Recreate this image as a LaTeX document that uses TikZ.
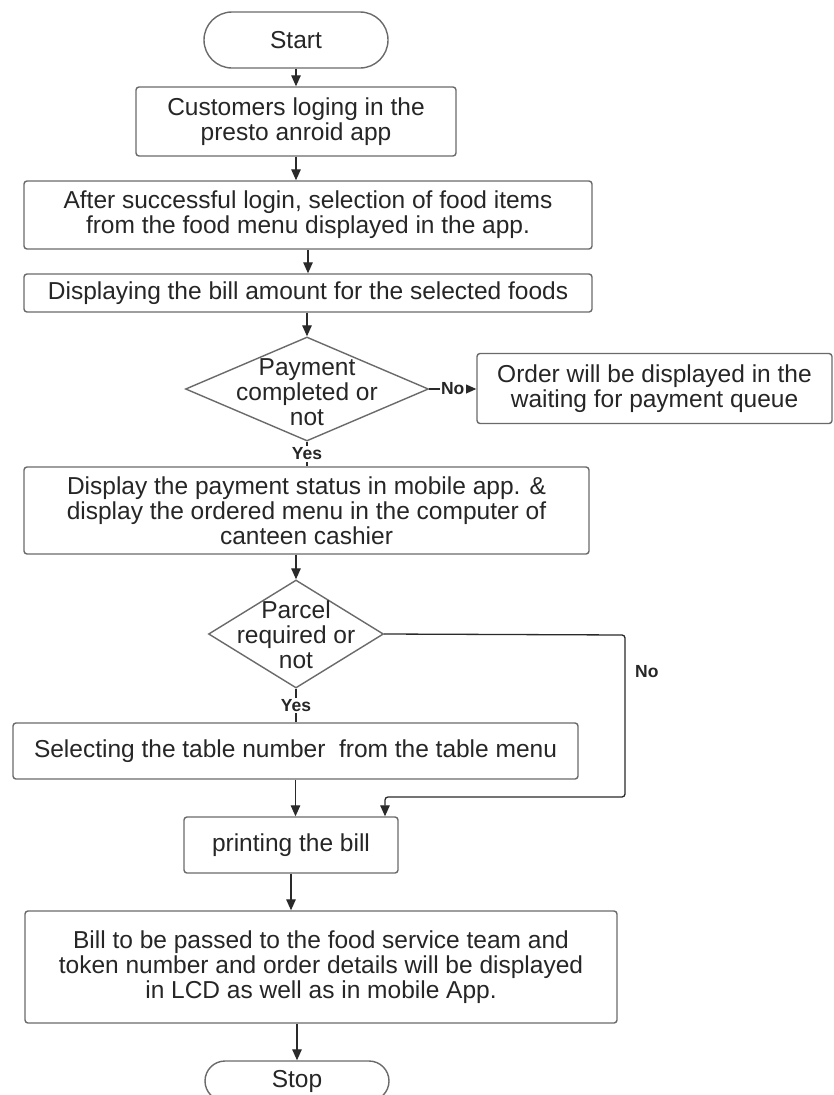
\documentclass[tikz,border=0pt]{standalone}
\usepackage{fontspec}
\setmainfont{Liberation Sans}
\usetikzlibrary{shapes.geometric,shapes.misc,arrows.meta}
\definecolor{boxline}{HTML}{6A6A6A}
\definecolor{conn}{HTML}{2A2A2A}
\definecolor{ink}{HTML}{262626}
\begin{document}
\begin{tikzpicture}[x=1pt,y=-1pt,
  every node/.style={text=ink},
  txt/.style={font=\fontsize{24.5}{25}\selectfont, align=center},
  procbox/.style={draw=boxline, line width=1.4pt, rounded corners=3pt, inner sep=0pt, txt},
  termbox/.style={draw=boxline, line width=1.4pt, rounded rectangle, inner sep=0pt, txt},
  decbox/.style={draw=boxline, line width=1.4pt, diamond, inner sep=0pt},
  dectext/.style={inner sep=0pt, txt},
  lbl/.style={font=\bfseries\fontsize{17.5}{19}\selectfont, fill=white, inner sep=1.5pt},
  sidelbl/.style={font=\bfseries\fontsize{17.5}{19}\selectfont, inner sep=0pt},
  flow/.style={draw=conn, line width=1.3pt, -{Triangle[length=11pt,width=9.5pt]}},
  plain/.style={draw=conn, line width=1.3pt}
]
\path[use as bounding box] (0,0) rectangle (834,1095);
\fill[white] (0,0) rectangle (834,1095);
\clip (0,0) rectangle (834,1095);

% terminals, steps and decisions
\node[termbox, minimum width=184pt, minimum height=56pt] (start) at (296,40) {Start};
\node[procbox, minimum width=320pt, minimum height=69pt] (login) at (296,121.5)
  {Customers loging in the\\presto anroid app};
\node[procbox, minimum width=568pt, minimum height=68pt] (select) at (308,215)
  {After successful login, selection of food items\\from the food menu displayed in the app.};
\node[procbox, minimum width=568pt, minimum height=38pt] (bill) at (308,293)
  {Displaying the bill amount for the selected foods};
\node[decbox, minimum width=243pt, minimum height=104pt] (pay) at (307,389) {};
\node[dectext] (paytext) at (307,392) {Payment\\completed or\\not};
\node[procbox, minimum width=355pt, minimum height=70pt] (wait) at (654.5,388.5)
  {Order will be displayed in the\\waiting for payment queue};
\node[procbox, minimum width=565pt, minimum height=87pt] (status) at (306.5,510.5)
  {Display the payment status in mobile app. \&\\display the ordered menu in the computer of\\canteen cashier};
\node[decbox, minimum width=175pt, minimum height=108pt] (parcel) at (296,634) {};
\node[dectext] (parceltext) at (296,635) {Parcel\\required or\\not};
\node[procbox, minimum width=565pt, minimum height=56pt] (table) at (295.5,751)
  {Selecting the table number\ \ from the table menu};
\node[procbox, minimum width=214pt, minimum height=56pt] (print) at (291,845)
  {printing the bill};
\node[procbox, minimum width=592pt, minimum height=112pt] (serve) at (321,967)
  {Bill to be passed to the food service team and\\token number and order details will be displayed\\in LCD as well as in mobile App.};
\node[termbox, minimum width=184pt, minimum height=40pt] (stop) at (297,1081) {Stop};

% connectors
\draw[flow] (start.south) -- (login.north);
\draw[flow] (login.south) -- (login.south |- select.north);
\draw[flow] (select.south) -- (bill.north);
\draw[flow] (pay.north |- bill.south) -- (pay.north);
\draw[flow] (pay.east) -- (pay.east -| wait.west)
  node[lbl, midway] (payno) {No};
\draw[plain] (pay.south) -- (pay.south |- status.north)
  node[lbl, midway] (payyes) {Yes};
\draw[flow] (parcel.north |- status.south) -- (parcel.north);
\draw[plain] (parcel.south) -- (parcel.south |- table.north)
  node[lbl, midway] (parcelyes) {Yes};
\coordinate (noturn) at (625,635);
\coordinate (nobase) at (625,797);
\coordinate (nodrop) at (385,797);
\draw[flow, rounded corners=3pt] (parcel.east) -- (noturn) -- (nobase) -- (nodrop) -- (nodrop |- print.north);
\node[sidelbl, anchor=west] (parcelno) at (635,672) {No};
\draw[flow] (table.south) -- (table.south |- print.north);
\draw[flow] (print.south) -- (print.south |- serve.north);
\draw[flow] (stop.north |- serve.south) -- (stop.north);
\end{tikzpicture}
\end{document}
